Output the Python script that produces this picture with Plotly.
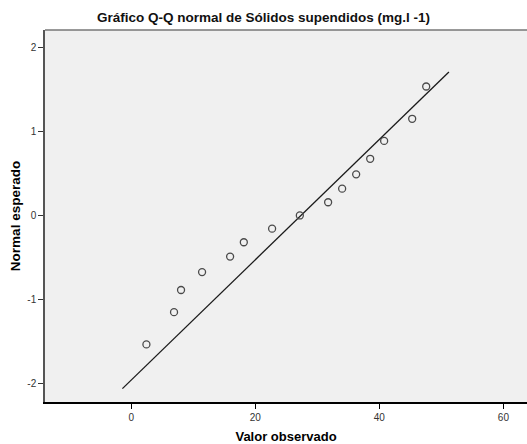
import plotly.graph_objects as go

# Observed values (x) and expected normal quantiles (y)
observed = [2.45, 6.9, 8.03, 11.42, 15.94, 18.15, 22.71, 27.18, 31.74, 34.0, 36.26, 38.52, 40.77, 45.29, 47.55]
expected = [-1.534, -1.150, -0.887, -0.674, -0.489, -0.319, -0.157, 0.0, 0.157, 0.319, 0.489, 0.674, 0.887, 1.150, 1.534]

# Reference line endpoints
line_x = [-1.42, 51.21]
line_y = [-2.06, 1.707]

x_ticks = [0, 20, 40, 60]
x_tick_labels = ["0", "20", "40", "60"]
y_ticks = [-2, -1, 0, 1, 2]
y_tick_labels = ["-2", "-1", "0", "1", "2"]

title_text = "Gráfico Q-Q normal de Sólidos supendidos (mg.l -1)"
x_title = "Valor observado"
y_title = "Normal esperado"

FONT = "Arial, 'Liberation Sans', sans-serif"

fig = go.Figure()
fig.add_trace(go.Scatter(
    x=line_x, y=line_y, mode="lines",
    line=dict(color="#1a1a1a", width=1.3),
    hoverinfo="skip", showlegend=False,
))
fig.add_trace(go.Scatter(
    x=observed, y=expected, mode="markers",
    marker=dict(symbol="circle-open", size=7, color="#4a4a4a", line=dict(width=1.3)),
    showlegend=False,
))

fig.update_layout(
    width=527, height=444,
    margin=dict(l=45, r=0, t=30, b=42),
    paper_bgcolor="white",
    plot_bgcolor="#F0F0F0",
    font=dict(family=FONT, size=10, color="#222"),
    title=dict(text=title_text, x=0.5, xanchor="center", y=1 - 17 / 444, yanchor="middle",
               font=dict(family=FONT, size=13.5, color="#111", weight="bold")),
    showlegend=False,
)
fig.update_xaxes(
    range=[-13.9, 63.8], tickvals=x_ticks, ticktext=x_tick_labels,
    ticks="outside", ticklen=5, tickcolor="black",
    showgrid=False, zeroline=False, showline=True, linecolor="black", linewidth=1.5,
    tickfont=dict(size=10, color="#333"),
    title=dict(text=x_title, font=dict(family=FONT, size=13, color="black", weight="bold"), standoff=10),
)
fig.update_yaxes(
    range=[-2.219, 2.206], tickvals=y_ticks, ticktext=y_tick_labels,
    ticks="outside", ticklen=5, tickcolor="#333",
    showgrid=False, zeroline=False, showline=True, linecolor="#555", linewidth=1.5,
    tickfont=dict(size=10, color="#333"),
    title=dict(text=y_title, font=dict(family=FONT, size=13.5, color="black", weight="bold"), standoff=4),
)
fig.add_shape(type="line", xref="paper", yref="paper", x0=0, x1=1, y0=1, y1=1,
              line=dict(color="#777", width=1.5))

fig.write_html("out.html")
